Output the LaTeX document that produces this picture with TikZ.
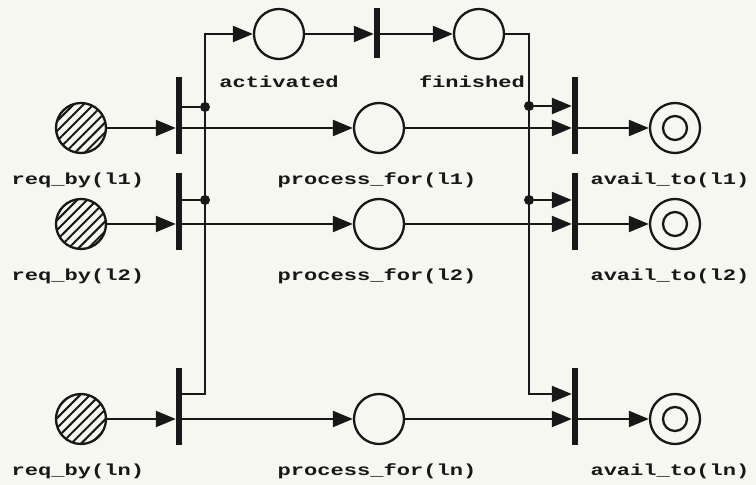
\documentclass[tikz,border=0pt]{standalone}
\usepackage{fontspec}
\newfontfamily\netfont[FakeStretch=1.38]{Liberation Mono}
\usepackage{tikz}
\usetikzlibrary{arrows.meta, positioning, patterns.meta}
\usepackage{xcolor}
\definecolor{inkcolor}{RGB}{24,24,24}
\definecolor{papercolor}{RGB}{246,247,240}

\begin{document}
\begin{tikzpicture}[
    x=1pt, y=1pt, color=inkcolor,
    place/.style={circle, draw, line width=2.3pt, minimum size=50pt, inner sep=0pt},
    srcplace/.style={place, pattern={Lines[angle=45, distance=7pt, line width=2pt]}, pattern color=inkcolor},
    sinkplace/.style={place, path picture={\draw[line width=2.3pt] (path picture bounding box.center) circle (12pt);}},
    trans/.style={rectangle, fill, minimum width=6pt, minimum height=77pt, inner sep=0pt},
    junction/.style={circle, fill, minimum size=10pt, inner sep=0pt},
    arc/.style={-{Triangle[length=20pt, width=16pt]}, line width=2.2pt},
    link/.style={line width=2.2pt},
    lbl/.style={font=\netfont\bfseries\fontsize{16}{16}\selectfont},
]

\fill[papercolor] (0,0) rectangle (756,485);

% request / process / availability rows
\foreach \r/\y/\txt in {1/357/l1, 2/261/l2, n/66/ln} {
    \node[srcplace] (req\r) at (81,\y) {};
    \node[lbl, below=15pt of req\r, xshift=-3pt] {req\_by(\txt)};
    \node[trans] (s\r) at (179,\y+12) {};
    \node[place] (proc\r) at (379,\y) {};
    \node[lbl, below=15pt of proc\r, xshift=-2pt] {process\_for(\txt)};
    \node[trans] (e\r) at (575,\y+12) {};
    \node[sinkplace] (avail\r) at (675,\y) {};
    \node[lbl, below=15pt of avail\r, xshift=-5pt] {avail\_to(\txt)};
    \draw[arc] (req\r) -- (req\r -| s\r.west);
    \draw[arc] (s\r.east |- req\r) -- (proc\r);
    \draw[arc] (proc\r) -- (proc\r -| e\r.west);
    \draw[arc] (e\r.east |- avail\r) -- (avail\r);
}

% activation / completion
\node[place] (act) at (279,451) {};
\node[lbl, below=12pt of act] {activated};
\node[trans, minimum height=50pt] (mid) at (377,452) {};
\node[place] (fin) at (479,451) {};
\node[lbl, below=12pt of fin, xshift=-7pt] {finished};
\draw[arc] (act) -- (act -| mid.west);
\draw[arc] (mid.east |- fin) -- (fin);

% left bus
\coordinate (lbend) at (205,91);
\node[junction] (j1) at (205,378) {};
\node[junction] (j2) at (205,285) {};
\draw[link] (s1.east |- j1) -- (j1);
\draw[link] (s2.east |- j2) -- (j2);
\draw[arc] (sn.east |- lbend) -- (lbend) -- (lbend |- act) -- (act);

% right bus
\coordinate (rbend) at (529,91);
\node[junction] (k1) at (529,379) {};
\node[junction] (k2) at (529,285) {};
\draw[arc] (fin) -- (rbend |- fin) -- (rbend) -- (rbend -| en.west);
\draw[arc] (k1) -- (k1 -| e1.west);
\draw[arc] (k2) -- (k2 -| e2.west);

\end{tikzpicture}
\end{document}
